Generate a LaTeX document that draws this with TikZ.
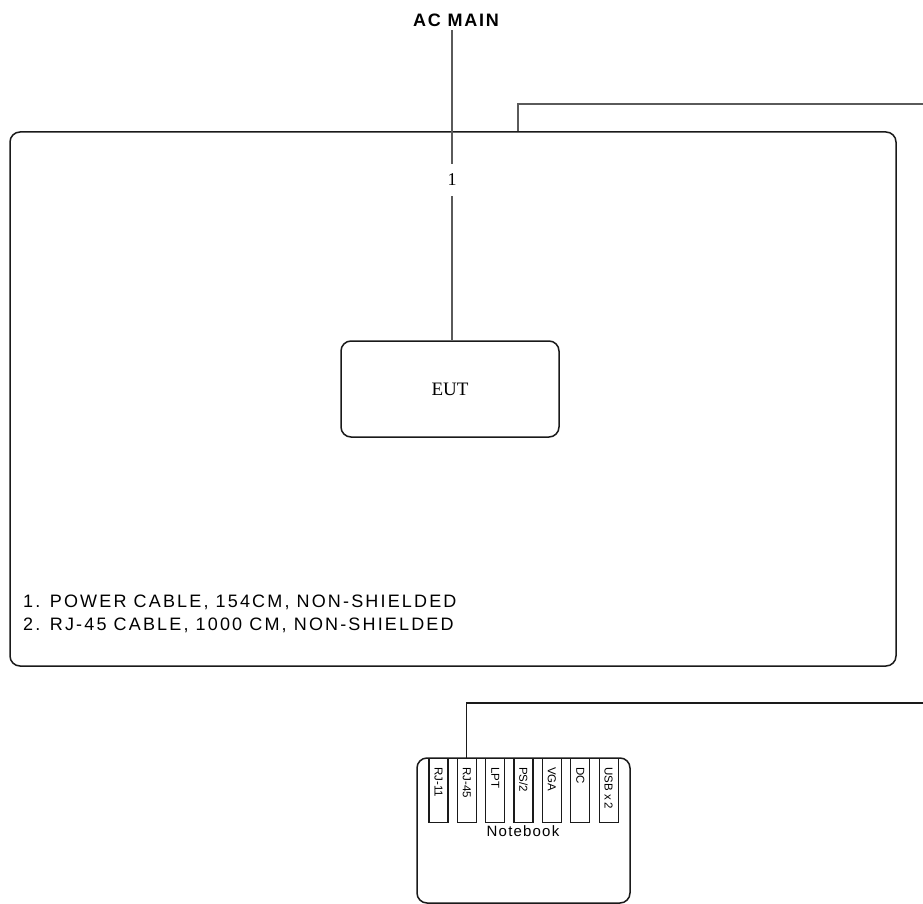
\documentclass[tikz,border=0pt]{standalone}
\usepackage{fontspec}
\setmainfont{Liberation Serif}
\setsansfont{Liberation Sans}
\newfontfamily\lsp[LetterSpace=10]{Liberation Sans}
\newfontfamily\lspl[LetterSpace=12]{Liberation Sans}
\newfontfamily\lspn[LetterSpace=8]{Liberation Sans}
\definecolor{boxline}{HTML}{1A1A1A}
\definecolor{cableg}{HTML}{5A5A5A}
\tikzset{
  roundbox/.style={draw=boxline, line width=1.5pt, rounded corners=10pt, inner sep=0pt},
  portbox/.style={draw=boxline, line width=1.2pt, minimum width=19pt, minimum height=64pt, inner sep=0pt, anchor=north},
  portlbl/.style={rotate=-90, anchor=west, inner sep=0pt, font=\sffamily\fontsize{11.5}{11.5}\selectfont},
  cable/.style={draw=cableg, line width=1.2pt},
  cableb/.style={draw=boxline, line width=1.2pt},
}
\begin{document}
\begin{tikzpicture}[x=1pt,y=-1pt]
\useasboundingbox (0,0) rectangle (923,904);
% outer test area
\node[roundbox, minimum width=886pt, minimum height=534pt] (room) at (453,399) {};
% AC main
\node[inner sep=0pt, font=\lsp\bfseries\fontsize{18}{18}\selectfont] (ac) at (456,20) {AC MAIN};
\coordinate (acl) at (452,30);
\node[inner sep=0pt, minimum height=32pt, font=\fontsize{18}{18}\selectfont] (n1) at (452,180) {1};
% EUT
\node[roundbox, minimum width=218pt, minimum height=96pt, font=\fontsize{19}{19}\selectfont] (eut) at (450,389) {EUT};
\draw[cable] (acl) -- (n1.north);
\draw[cable] (n1.south) -- (n1.south |- eut.north);
% cable 2 (top)
\coordinate (t1) at (518,104);
\coordinate (t2) at (935,104);
\draw[cable] (t1 |- room.north) -- (t1) -- (t2);
\node[inner sep=0pt, font=\fontsize{18}{18}\selectfont] (n2) at (927,404) {2};
% legend
\node[anchor=base west, inner sep=0pt, align=left, font=\lspl\fontsize{18}{23}\selectfont] (leg) at (23,630)
  {1. POWER CABLE, 154CM, NON-SHIELDED\\2. RJ-45 CABLE, 1000 CM, NON-SHIELDED};
% notebook
\node[roundbox, minimum width=213pt, minimum height=145pt] (nb) at (523.5,830.5) {};
\foreach \i/\t in {0/{RJ-11},1/{RJ-45},2/{LPT},3/{PS/2},4/{VGA},5/{DC},6/{USB x 2}}{
  \node[portbox] (p\i) at (438.5+28.35*\i,758) {};
  \node[portlbl] (pl\i) at (438.5+28.35*\i,767) {\t};
}
\node[inner sep=0pt, font=\lspn\fontsize{15}{15}\selectfont] (nbt) at (523,831) {Notebook};
\coordinate (b1) at (935,703);
\draw[cableb] (b1) -- (b1 -| p1.north) -- (p1.north);
\end{tikzpicture}
\end{document}
